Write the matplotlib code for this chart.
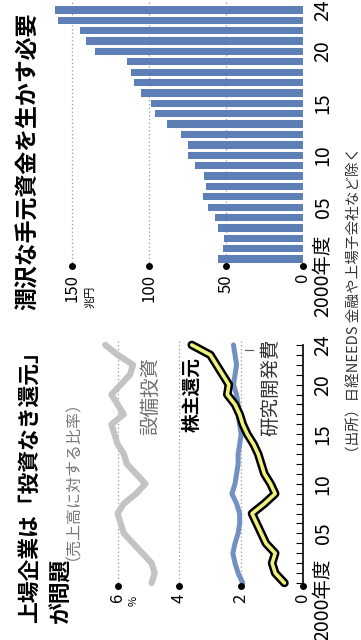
import matplotlib

matplotlib.use("Agg")
import matplotlib.patheffects as pe
import matplotlib.pyplot as plt
import numpy as np
from matplotlib.transforms import blended_transform_factory as blend

plt.rcParams["font.family"] = ["Noto Sans CJK JP", "DejaVu Sans"]

W, H = 361, 640  # output size in px; the whole graphic is turned 90 deg (reads bottom-to-top)

YEARS = np.arange(2000, 2025)
YEAR_TICKS = [2000, 2005, 2010, 2015, 2020, 2024]
YEAR_LABELS = ["2000年度", "05", "10", "15", "20", "24"]

# right panel: cash on hand of listed firms (trillion yen)
CASH = [55, 52, 51, 55, 57, 62, 65, 63, 64, 70, 75, 75, 79,
        88, 96, 99, 105, 110, 112, 114, 135, 141, 145, 159, 161]
CASH_TICKS = [0, 50, 100, 150]

# left panel: ratio to sales (%)
CAPEX = [4.9, 4.8, 4.9, 5.2, 5.5, 5.8, 5.9, 6.0, 5.8, 5.4, 5.1, 5.4, 5.7,
         5.8, 6.0, 6.1, 6.2, 5.8, 6.0, 6.2, 5.9, 5.6, 5.5, 6.0, 6.4]
PAYOUT = [0.6, 0.9, 1.0, 0.9, 1.2, 1.35, 1.5, 1.65, 1.25, 0.9, 1.05, 1.25, 1.35,
          1.45, 1.6, 1.8, 1.95, 2.05, 2.2, 2.45, 2.4, 2.6, 2.8, 3.0, 3.6]
RND = [1.95, 2.1, 2.2, 2.27, 2.2, 2.1, 2.05, 2.05, 2.15, 2.3, 2.2, 2.15, 2.1,
       2.1, 2.05, 2.0, 2.05, 2.1, 2.1, 2.15, 2.25, 2.2, 2.15, 2.2, 2.25]
RATIO_TICKS = [0, 2, 4, 6]

BAR_BLUE = "#5d7fb6"
LINE_BLUE = "#7290c2"
GREY = "#c3c3c3"
YELLOW = "#eef27c"
DOTS = (0, (1, 2))

fig = plt.figure(figsize=(W / 100, H / 100), dpi=100)
fig.patch.set_facecolor("white")


def box(x0, y0, x1, y1):
    """pixel box (y measured from the top) -> add_axes rect"""
    return [x0 / W, 1 - y1 / H, (x1 - x0) / W, (y1 - y0) / H]


def put(x, y, s, **kw):
    """upward-reading text at pixel coords"""
    kw.setdefault("ha", "center")
    kw.setdefault("va", "center")
    fig.text(x / W, 1 - y / H, s, rotation=90, **kw)


def value_axis(ax, ticks, y_dot, y_top, text_px):
    ax.vlines(ticks[1:], y_dot, y_top, colors="#9a9a9a", linestyles=DOTS, lw=0.9, zorder=0)
    ax.scatter(ticks, [y_dot] * len(ticks), s=16, color="black", zorder=6, clip_on=False)
    tr = blend(ax.transData, fig.transFigure)
    for v in ticks:
        ax.text(v, 1 - text_px / H, str(v), transform=tr, rotation=90,
                ha="center", va="top", fontsize=12)


def year_labels(ax, shift):
    tr = blend(fig.transFigure, ax.transData)
    for yr, lab in zip(YEAR_TICKS, YEAR_LABELS):
        dy = shift if lab.endswith("年度") else 0
        ax.text(323 / W, yr + dy, lab, transform=tr, rotation=90,
                ha="center", va="center", fontsize=14)


# ---- right panel (top half here): bars ----
axb = fig.add_axes(box(50, 0, 303, 266))
axb.barh(YEARS, CASH, height=0.7, color=BAR_BLUE, zorder=2)
axb.set_xlim(164.3, 0)
axb.set_ylim(1999.33, 2024.96)
axb.axis("off")
value_axis(axb, CASH_TICKS, 1999.33, 2024.96, 274)
put(90, 286, "兆円", va="top", fontsize=8)
year_labels(axb, -1.64)
put(28, 310, "潤沢な手元資金を生かす必要", va="bottom", fontsize=16.5, fontweight="bold")

# ---- left panel (bottom half here): ratios ----
axl = fig.add_axes(box(100, 340, 303, 590))
axl.set_xlim(6.57, 0)
axl.set_ylim(1999.29, 2024.5)
axl.axis("off")
value_axis(axl, RATIO_TICKS, 1999.7, 2024.4, 594)
put(134, 596, "%", va="top", fontsize=8)

axl.plot(CAPEX, YEARS, color=GREY, lw=4.5, solid_capstyle="round", zorder=3, clip_on=False)
axl.plot(RND, YEARS, color=LINE_BLUE, lw=3.6, solid_capstyle="round", zorder=3, clip_on=False)
axl.plot(PAYOUT, YEARS, color=YELLOW, lw=2.6, solid_capstyle="round", zorder=4, clip_on=False,
         path_effects=[pe.Stroke(linewidth=6.2, foreground="black"), pe.Normal()])

# year axis with yearly ticks
axl.plot([0, 0], [2000, 2024], color="black", lw=1.2, zorder=5, clip_on=False)
axl.hlines(YEARS, 0, 0.22, colors="black", lw=0.8, zorder=5)
year_labels(axl, -1.71)

put(151, 396, "設備投資", fontsize=14, color="#6e6e6e")
put(192, 395, "株主還元", fontsize=13.5, fontweight="bold")
put(271, 387, "研究開発費", fontsize=14, color="#333333")
axl.plot([1.88, 1.62], [2023.5, 2023.5], color="#555555", lw=0.8, zorder=5)

put(29, 623, "上場企業は「投資なき還元」", va="bottom", fontsize=15.7, fontweight="bold")
put(61, 623, "が問題", va="bottom", fontsize=15.7, fontweight="bold")
put(65, 560, "（売上高に対する比率）", va="bottom", fontsize=11.5, color="#777777")

put(355, 460, "（出所）日経NEEDS 金融や上場子会社など除く", va="bottom", fontsize=10.5, color="#333333")

fig.savefig("out.png", dpi=100)
